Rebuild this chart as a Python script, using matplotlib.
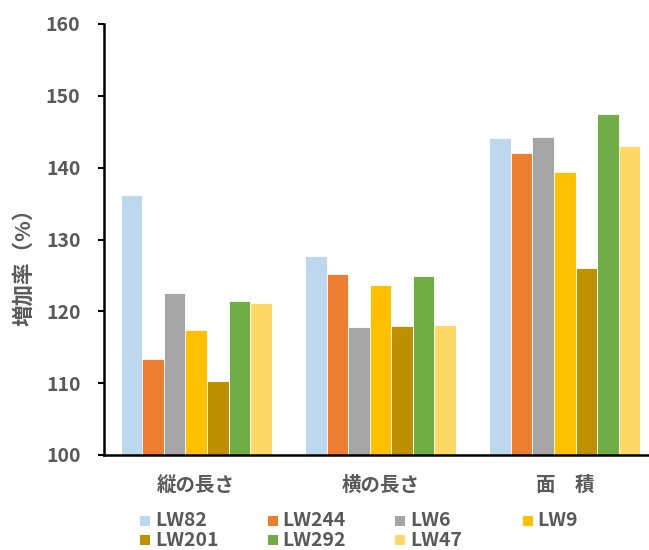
import matplotlib
matplotlib.use("Agg")
import matplotlib.pyplot as plt
from matplotlib.patches import Rectangle
import numpy as np

plt.rcParams['font.family'] = ['Noto Sans CJK JP', 'DejaVu Sans']

categories = ["縦の長さ", "横の長さ", "面　積"]
series_names = ["LW82", "LW244", "LW6", "LW9", "LW201", "LW292", "LW47"]
series_values = [
    [136.2, 127.7, 144.1],   # LW82
    [113.4, 125.2, 142.0],   # LW244
    [122.5, 117.8, 144.3],   # LW6
    [117.4, 123.6, 139.4],   # LW9
    [110.3, 117.9, 126.1],   # LW201
    [121.5, 124.9, 147.5],   # LW292
    [121.1, 118.1, 143.0],   # LW47
]
colors = ["#BDD7EE", "#ED7D31", "#A5A5A5", "#FFC000", "#BF9000", "#70AD47", "#FFD966"]
y_ticks = [100, 110, 120, 130, 140, 150, 160]
y_label = "増加率（%）"

W, H = 649, 550
fig = plt.figure(figsize=(W / 100, H / 100), dpi=100)
ax = fig.add_axes([104 / W, 95 / H, 553 / W, 431 / H])

text_color = "#595959"
n = len(series_names)
group_frac = 0.82
bw = group_frac / n
x = np.arange(len(categories))
for i, (name, vals, c) in enumerate(zip(series_names, series_values, colors)):
    offs = -group_frac / 2 + bw * (i + 0.5)
    ax.bar(x + offs, np.array(vals) - 100, bottom=100, width=bw, color=c,
           edgecolor="white", linewidth=0.6, label=name)

ax.set_xlim(-0.5, len(categories) - 0.5)
ax.set_ylim(100, 160)
ax.set_yticks(y_ticks)
ax.set_yticklabels([str(t) for t in y_ticks], fontsize=14, fontweight="bold",
                   color=text_color)
ax.set_xticks(x)
ax.set_xticklabels(categories, fontsize=14, fontweight="bold", color=text_color)
ax.tick_params(axis="y", direction="out", length=4, width=1.5, pad=13)
ax.tick_params(axis="x", length=0, pad=15)
for s in ["top", "right"]:
    ax.spines[s].set_visible(False)
for s in ["left", "bottom"]:
    ax.spines[s].set_linewidth(1.8)
    ax.spines[s].set_color("black")

fig.text(24 / W, 1 - 262 / H, y_label, rotation=90, ha="center", va="center",
         fontsize=15.5, fontweight="bold", color=text_color)

# legend laid out in a 4-column grid beneath the axis
col_x = [140, 267.7, 395.3, 522.7]
row_y = [521, 540]
sq = 10
for i, (name, c) in enumerate(zip(series_names, colors)):
    cx = col_x[i % 4]
    cy = row_y[i // 4]
    fig.patches.append(Rectangle((cx / W, 1 - (cy + sq / 2) / H), sq / W, sq / H,
                                 transform=fig.transFigure, facecolor=c,
                                 edgecolor="none"))
    fig.text((cx + 15) / W, 1 - cy / H, name, ha="left", va="center",
             fontsize=14, fontweight="bold", color=text_color)

fig.savefig("out.png", dpi=100)
